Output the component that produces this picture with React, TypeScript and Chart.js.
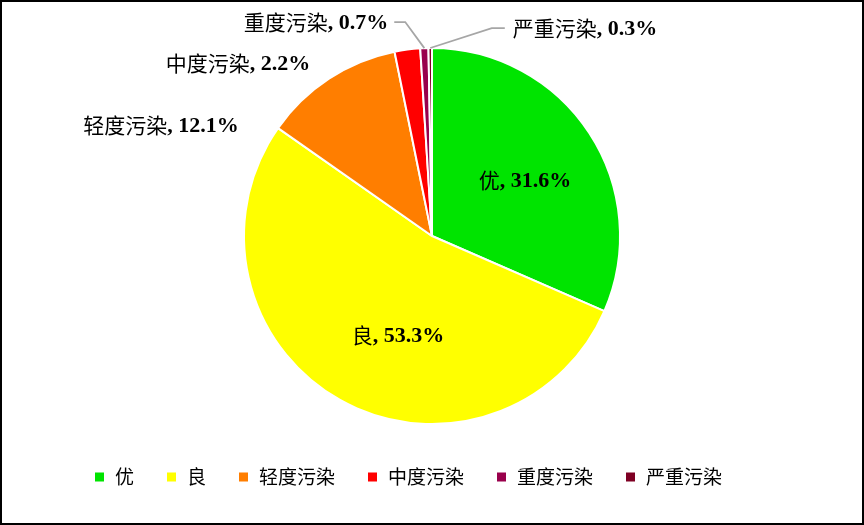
import React, { useEffect, useRef } from "react";
import { Chart, registerables } from "chart.js";

Chart.register(...registerables);

const categories = ["优", "良", "轻度污染", "中度污染", "重度污染", "严重污染"];
const values = [31.6, 53.3, 12.1, 2.2, 0.7, 0.3];
const valueLabels = ["31.6%", "53.3%", "12.1%", "2.2%", "0.7%", "0.3%"];
const colors = ["#00E400", "#FFFF00", "#FF7E00", "#FF0000", "#99004C", "#7E0023"];
// label anchor offsets from pie centre, in units of radius
const labelOffsets = [
  [0.495, -0.298],
  [-0.181, 0.527],
  [-1.441, -0.59],
  [-1.032, -0.92],
  [-0.617, -1.138],
  [0.814, -1.106],
];
const hasLeader = [false, false, false, false, true, true];

const CJK = '"Noto Sans CJK SC", "Noto Sans CJK JP", sans-serif';
const NUM = '"Liberation Serif", "Times New Roman", serif';

const labelPlugin = {
  id: "customLabels",
  afterDraw(chart: any) {
    const ctx = chart.ctx as CanvasRenderingContext2D;
    const meta = chart.getDatasetMeta(0);
    const arc0 = meta.data[0] as any;
    const cx = arc0.x;
    const cy = arc0.y;
    const R = arc0.outerRadius;
    ctx.save();
    // labels
    meta.data.forEach((arc: any, i: number) => {
      const lx = cx + labelOffsets[i][0] * R;
      const ly = cy + labelOffsets[i][1] * R;
      const fCjk = `21px ${CJK}`;
      const fNum = `bold 22px ${NUM}`;
      ctx.font = fCjk;
      const w1 = ctx.measureText(categories[i]).width;
      ctx.font = fNum;
      const t2 = ", " + valueLabels[i];
      const w2 = ctx.measureText(t2).width;
      const total = w1 + w2;
      const x0 = lx - total / 2;
      ctx.textBaseline = "middle";
      ctx.textAlign = "left";
      ctx.fillStyle = "#000";
      ctx.font = fCjk;
      ctx.fillText(categories[i], x0, ly);
      ctx.font = fNum;
      ctx.fillText(t2, x0 + w1, ly + 1);
      if (hasLeader[i]) {
        const mid = (arc.startAngle + arc.endAngle) / 2;
        const px = cx + Math.cos(mid) * R;
        const py = cy + Math.sin(mid) * R;
        const leftSide = lx < cx;
        const edgeX = leftSide ? x0 + total + 6 : x0 - 8;
        const elbowX = leftSide ? edgeX + 11 : edgeX - 13;
        ctx.strokeStyle = "#A6A6A6";
        ctx.lineWidth = 1.8;
        ctx.beginPath();
        ctx.moveTo(px, py);
        ctx.lineTo(elbowX, ly);
        ctx.lineTo(edgeX, ly);
        ctx.stroke();
      }
    });
    // legend
    let x = 95;
    const ly = 477;
    ctx.font = `19px ${CJK}`;
    ctx.textBaseline = "middle";
    categories.forEach((c, i) => {
      ctx.fillStyle = colors[i];
      ctx.fillRect(x, ly - 4.5, 9, 9);
      ctx.fillStyle = "#000";
      ctx.fillText(c, x + 20, ly);
      x += 20 + ctx.measureText(c).width + 33;
    });
    // outer border
    ctx.strokeStyle = "#000";
    ctx.lineWidth = 2;
    ctx.strokeRect(1, 1, chart.width - 2, chart.height - 2);
    ctx.restore();
  },
};

export default function App() {
  const ref = useRef<HTMLCanvasElement>(null);
  useEffect(() => {
    const chart = new Chart(ref.current!, {
      type: "pie",
      data: {
        labels: categories,
        datasets: [
          {
            data: values,
            backgroundColor: colors,
            borderColor: "#FFFFFF",
            borderWidth: 2,
          },
        ],
      },
      options: {
        responsive: false,
        animation: false,
        layout: { padding: { top: 47, bottom: 100, left: 0, right: 0 } },
        plugins: {
          legend: { display: false },
          tooltip: { enabled: false },
        },
      },
      plugins: [labelPlugin],
    });
    return () => chart.destroy();
  }, []);
  return (
    <div style={{ position: "absolute", left: 0, top: 0, width: 864, height: 525, background: "#fff" }}>
      <canvas ref={ref} width={864} height={525} style={{ display: "block" }} />
    </div>
  );
}
